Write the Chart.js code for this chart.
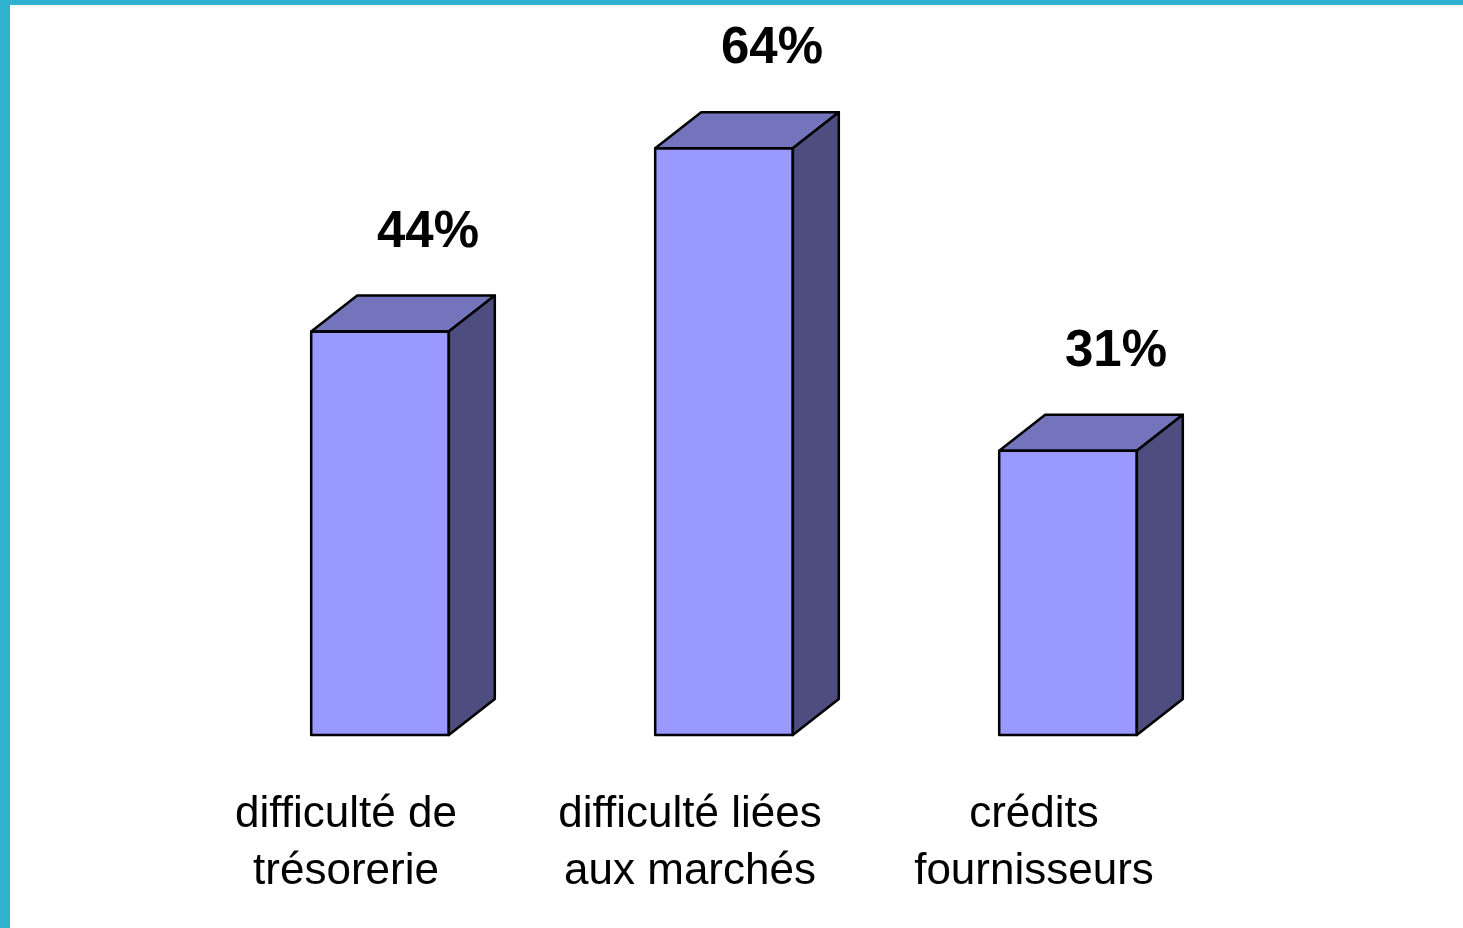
<!DOCTYPE html>
<html>
<head>
<meta charset="utf-8">
<script src="https://cdn.jsdelivr.net/npm/chart.js@4"></script>
<style>
  html, body { margin: 0; padding: 0; background: #fff; }
  #cadre {
    width: 1453px; height: 923px;
    border-left: 10px solid #2eb2cf;
    border-top: 5px solid #2eb2cf;
  }
</style>
</head>
<body>
<div id="cadre"><canvas id="chart" width="1453" height="923"></canvas></div>
<script>
// Données du graphique
const categories = [
  ['difficulté de', 'trésorerie'],
  ['difficulté liées', 'aux marchés'],
  ['crédits', 'fournisseurs']
];
const pourcentages = [44, 64, 31];

// Couleurs des faces
const faceAvant = '#9999ff';
const faceDessus = '#7474bc';
const faceCote = '#4d4d7f';
const profX = 46;
const profY = 36;

// Plugin pour dessiner l'effet 3D et les étiquettes
const effet3D = {
  id: 'effet3D',
  afterDatasetsDraw(chart) {
    const ctx = chart.ctx;
    const meta = chart.getDatasetMeta(0);
    ctx.save();
    ctx.lineWidth = 2.5;
    ctx.strokeStyle = '#000';
    ctx.lineJoin = 'round';
    meta.data.forEach((bar, i) => {
      const g = bar.x - bar.width / 2;
      const d = bar.x + bar.width / 2;
      const h = bar.y;
      const b = bar.base;

      // dessus
      ctx.beginPath();
      ctx.moveTo(g, h);
      ctx.lineTo(g + profX, h - profY);
      ctx.lineTo(d + profX, h - profY);
      ctx.lineTo(d, h);
      ctx.closePath();
      ctx.fillStyle = faceDessus;
      ctx.fill();
      ctx.stroke();

      // côté
      ctx.beginPath();
      ctx.moveTo(d, h);
      ctx.lineTo(d + profX, h - profY);
      ctx.lineTo(d + profX, b - profY);
      ctx.lineTo(d, b);
      ctx.closePath();
      ctx.fillStyle = faceCote;
      ctx.fill();
      ctx.stroke();

      // face avant (contour)
      ctx.strokeRect(g, h, d - g, b - h);

      // étiquette
      ctx.fillStyle = '#000';
      ctx.font = 'bold 51px "Liberation Sans", Arial, sans-serif';
      ctx.textAlign = 'center';
      ctx.textBaseline = 'middle';
      ctx.fillText(pourcentages[i] + '%', bar.x + profX + 2, h - 99);
    });
    ctx.restore();
  }
};

const ctx = document.getElementById('chart').getContext('2d');
const myChart = new Chart(ctx, {
  type: 'bar',
  data: {
    labels: categories,
    datasets: [{
      data: pourcentages,
      backgroundColor: faceAvant,
      borderWidth: 0,
      barPercentage: 0.4,
      categoryPercentage: 1
    }]
  },
  options: {
    responsive: false,
    animation: false,
    layout: { padding: { top: 90, left: 198, right: 223, bottom: 0 } },
    plugins: {
      legend: { display: false },
      tooltip: { enabled: false }
    },
    scales: {
      x: {
        grid: { display: false, drawTicks: false },
        border: { display: false },
        ticks: {
          color: '#000',
          padding: 52,
          labelOffset: -34,
          maxRotation: 0,
          autoSkip: false,
          font: { family: '"Liberation Sans", Arial, sans-serif', size: 44, lineHeight: 1.28 }
        },
        afterFit(scale) { scale.height = 193; }
      },
      y: {
        display: false,
        min: 0,
        max: 69.8
      }
    }
  },
  plugins: [effet3D]
});
</script>
</body>
</html>
